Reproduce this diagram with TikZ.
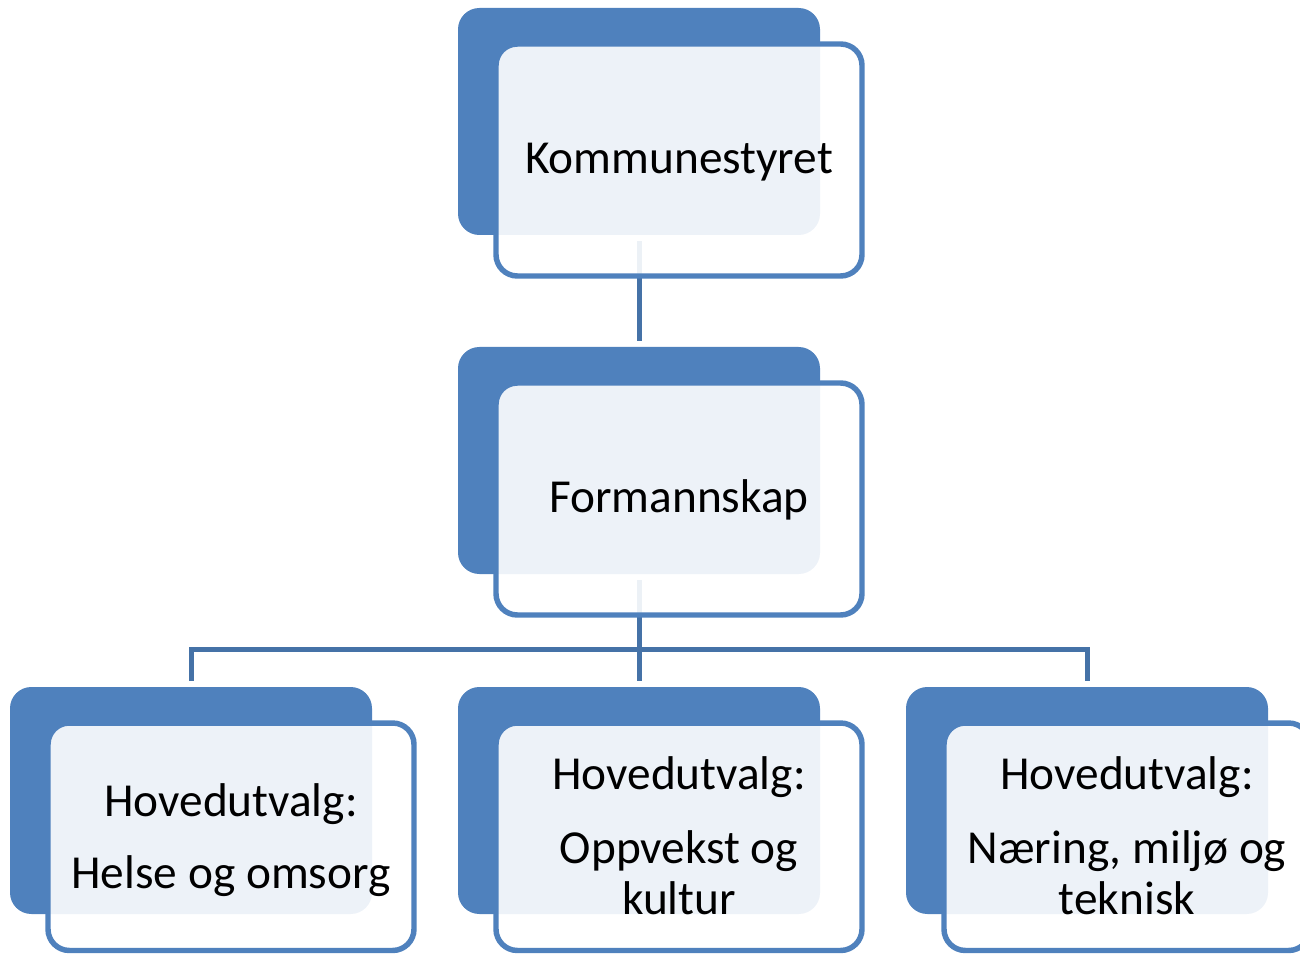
\documentclass[tikz,border=0pt]{standalone}
\usepackage{fontspec}
\setmainfont{Carlito}
\definecolor{accent}{RGB}{79,129,189}
\definecolor{connc}{RGB}{69,114,167}
\tikzset{
  darkbox/.style={fill=accent, draw=none, rounded corners=16pt, minimum width=271.5pt, minimum height=170.25pt, inner sep=0pt, outer sep=0pt},
  frontbox/.style={fill=white, fill opacity=0.9, draw=accent, draw opacity=1, line width=4.1pt, rounded corners=16pt, minimum width=274.5pt, minimum height=174pt, inner sep=0pt, outer sep=0pt},
  frontlow/.style={frontbox, minimum height=170.6pt},
  conn/.style={draw=connc, line width=3.75pt},
  lbl/.style={font=\fontsize{35.5}{42}\selectfont, anchor=base, inner sep=0pt, text=black},
}
\begin{document}
\begin{tikzpicture}[x=0.75pt,y=-0.75pt]
\clip (0,0) rectangle (1300,955);
\useasboundingbox (0,0) rectangle (1300,955);
% back boxes (positions only, drawn later)
\path (639,121.5) node[darkbox, fill=none] (kd) {};
\path (639,460.5) node[darkbox, fill=none] (fd) {};
\path (191,800.5) node[darkbox, fill=none] (hd) {};
\path (639,800.5) node[darkbox, fill=none] (od) {};
\path (1087,800.5) node[darkbox, fill=none] (nd) {};
\coordinate (bus) at (639,649.5);
% connectors
\draw[conn, shorten <=4.5pt, shorten >=4.5pt] (kd.south) -- (fd.north);
\draw[conn, shorten <=4.5pt] (fd.south) -- (bus);
\draw[conn, shorten >=4.5pt] (bus) -| (hd.north);
\draw[conn, shorten >=4.5pt] (bus) -| (nd.north);
\draw[conn, shorten >=4.5pt] (bus) -- (od.north);
% dark boxes
\node[darkbox] (kdb) at (kd) {};
\node[darkbox] (fdb) at (fd) {};
\node[darkbox] (hdb) at (hd) {};
\node[darkbox] (odb) at (od) {};
\node[darkbox] (ndb) at (nd) {};
% front boxes
\node[frontbox] (kf) at (679,160) {};
\node[frontbox] (ff) at (679,499) {};
\node[frontlow] (hf) at (231,836.75) {};
\node[frontlow] (of) at (679,836.75) {};
\node[frontlow] (nf) at (1127,836.75) {};
% texts
\node[lbl] (kt) at (679,174) {Kommunestyret};
\node[lbl] (ft) at (679,512.7) {Formannskap};
\node[lbl] (ht1) at (231,816) {Hovedutvalg:};
\node[lbl] (ht2) at (231,888) {Helse og omsorg};
\node[lbl] (ot1) at (679,789.5) {Hovedutvalg:};
\node[lbl] (ot2) at (679,863) {Oppvekst og};
\node[lbl] (ot3) at (679,914) {kultur};
\node[lbl] (nt1) at (1127,789.5) {Hovedutvalg:};
\node[lbl] (nt2) at (1127,863) {Næring, miljø og};
\node[lbl] (nt3) at (1127,914) {teknisk};
\end{tikzpicture}
\end{document}
